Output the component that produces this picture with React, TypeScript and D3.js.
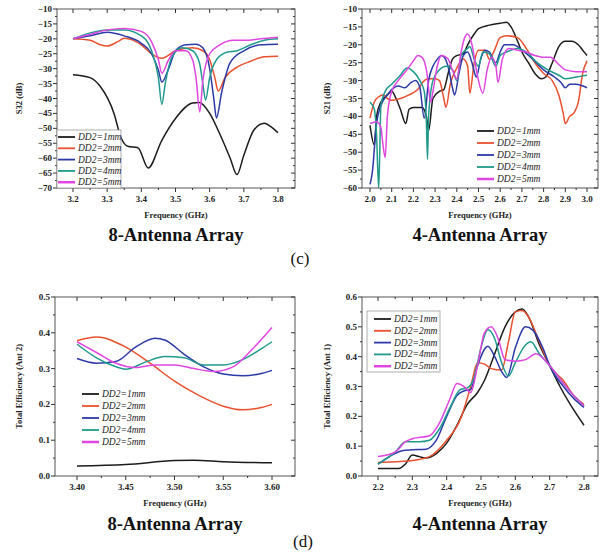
import React from "react";
import * as d3 from "d3";

type P = [number, number];

const seriesLabels = ["DD2=1mm", "DD2=2mm", "DD2=3mm", "DD2=4mm", "DD2=5mm"];
const seriesColors = ["#1c1c1c", "#e8502e", "#2b3aa6", "#1f9a8c", "#e045e0"];

// (c) 8-antenna S32
const s32_1: P[] = [[3.2,-32],[3.25,-33],[3.28,-36],[3.32,-45],[3.34,-53],[3.36,-56],[3.39,-56.5],[3.42,-63.3],[3.46,-54],[3.5,-46.7],[3.55,-41.5],[3.57,-41.3],[3.6,-45],[3.63,-52],[3.66,-60],[3.68,-65.5],[3.7,-59],[3.73,-50.5],[3.76,-48.3],[3.78,-49.5],[3.8,-51.5]];
const s32_2: P[] = [[3.2,-20],[3.25,-20.5],[3.28,-22],[3.3,-22.4],[3.33,-21],[3.35,-19.8],[3.4,-22],[3.43,-25],[3.46,-26.5],[3.5,-24],[3.55,-23],[3.58,-24],[3.6,-27],[3.615,-33],[3.625,-37.5],[3.645,-33],[3.68,-29.5],[3.72,-27.5],[3.76,-26],[3.8,-25.8]];
const s32_3: P[] = [[3.2,-20],[3.25,-19],[3.3,-17.8],[3.35,-19],[3.4,-21.5],[3.43,-25],[3.45,-30.5],[3.46,-34.5],[3.48,-30],[3.5,-24],[3.53,-22],[3.56,-21.8],[3.58,-23],[3.6,-30],[3.612,-40],[3.62,-46.5],[3.635,-38],[3.66,-28],[3.7,-24],[3.75,-22],[3.8,-21.8]];
const s32_4: P[] = [[3.2,-20],[3.25,-18],[3.3,-17],[3.35,-17],[3.4,-19],[3.43,-24],[3.45,-33],[3.46,-42],[3.47,-35],[3.49,-26],[3.52,-23],[3.55,-24],[3.57,-28],[3.58,-35],[3.588,-40.5],[3.6,-33],[3.62,-27],[3.65,-24.5],[3.68,-24],[3.72,-22],[3.76,-20.5],[3.8,-20]];
const s32_5: P[] = [[3.2,-20],[3.25,-18.5],[3.3,-17],[3.35,-16.5],[3.4,-17.5],[3.43,-21],[3.45,-27],[3.46,-31.5],[3.48,-27],[3.5,-24],[3.53,-24],[3.55,-27],[3.56,-33],[3.571,-44.5],[3.58,-34],[3.6,-25],[3.63,-22],[3.67,-20.5],[3.7,-20.5],[3.75,-20],[3.8,-19.5]];

// (c) 4-antenna S21
const s21_1: P[] = [[2.0,-42.5],[2.02,-48],[2.03,-40],[2.05,-36],[2.08,-34],[2.1,-33],[2.12,-35],[2.14,-38],[2.165,-42],[2.18,-38],[2.2,-37.5],[2.24,-37.5],[2.26,-40],[2.27,-44],[2.29,-35],[2.32,-33],[2.34,-32.5],[2.36,-28],[2.38,-24],[2.4,-23],[2.43,-22.5],[2.45,-20],[2.48,-17],[2.5,-15.5],[2.55,-14.5],[2.6,-14],[2.63,-13.7],[2.65,-15],[2.68,-19],[2.7,-22],[2.73,-25],[2.76,-28],[2.79,-29.5],[2.81,-29],[2.84,-25],[2.87,-20.5],[2.9,-19],[2.93,-19],[2.96,-20],[2.98,-21.5],[3.0,-23]];
const s21_2: P[] = [[2.0,-40.5],[2.02,-36],[2.04,-34.5],[2.06,-34],[2.08,-35],[2.1,-35.5],[2.14,-35],[2.18,-34],[2.22,-32.5],[2.25,-30],[2.27,-29.5],[2.3,-29.5],[2.32,-30],[2.34,-35],[2.35,-37.5],[2.37,-31],[2.4,-26.5],[2.43,-24],[2.45,-26],[2.46,-33.5],[2.48,-25],[2.5,-21.5],[2.53,-21.5],[2.55,-24],[2.57,-22],[2.6,-18],[2.63,-17.5],[2.68,-18],[2.72,-21],[2.76,-25],[2.8,-28],[2.84,-30],[2.87,-34],[2.89,-39],[2.9,-42],[2.92,-40],[2.94,-39],[2.96,-36],[2.98,-28],[3.0,-24.5]];
const s21_3: P[] = [[2.0,-59],[2.01,-56],[2.03,-42],[2.05,-37],[2.08,-34],[2.1,-32.5],[2.13,-31.5],[2.16,-32],[2.19,-30.5],[2.21,-30],[2.23,-32],[2.25,-40.5],[2.27,-30],[2.29,-26],[2.31,-24],[2.33,-23],[2.36,-26],[2.38,-32],[2.39,-34],[2.41,-28],[2.43,-23],[2.45,-22],[2.47,-25],[2.49,-29],[2.51,-24],[2.53,-21.5],[2.55,-22],[2.58,-25],[2.6,-22],[2.62,-20],[2.66,-20],[2.7,-21.5],[2.75,-24],[2.8,-27],[2.85,-29],[2.88,-30.5],[2.9,-32],[2.92,-31],[2.95,-31],[3.0,-32]];
const s21_4: P[] = [[2.0,-36],[2.02,-38],[2.03,-45],[2.04,-60],[2.045,-50],[2.05,-37],[2.07,-33],[2.1,-31],[2.14,-28.5],[2.17,-26.5],[2.2,-27.5],[2.23,-30],[2.25,-33],[2.26,-42],[2.265,-52],[2.27,-40],[2.29,-30],[2.32,-27],[2.35,-26],[2.38,-27],[2.4,-30],[2.42,-23],[2.45,-21],[2.46,-20.5],[2.48,-24],[2.5,-26],[2.52,-22],[2.55,-22.5],[2.58,-26],[2.6,-23],[2.63,-22],[2.68,-21],[2.72,-22],[2.77,-25],[2.82,-27],[2.87,-28.5],[2.9,-29.5],[2.95,-29],[3.0,-28.5]];
const s21_5: P[] = [[2.0,-42],[2.03,-41.5],[2.05,-43],[2.06,-48],[2.07,-51.5],[2.08,-40],[2.1,-33],[2.13,-30],[2.17,-27],[2.2,-24.5],[2.22,-23],[2.24,-23.5],[2.26,-27],[2.28,-36],[2.29,-33],[2.31,-26],[2.33,-23],[2.36,-24],[2.38,-27],[2.4,-29.5],[2.42,-22],[2.44,-17.5],[2.45,-17],[2.47,-20],[2.49,-27],[2.5,-30],[2.52,-33.5],[2.54,-27],[2.56,-23.5],[2.58,-26],[2.59,-30.5],[2.61,-24],[2.64,-21],[2.68,-21.5],[2.72,-22],[2.76,-23],[2.8,-23.5],[2.83,-23.5],[2.87,-25.5],[2.9,-27],[2.95,-27.5],[3.0,-27.5]];

// (d) 8-antenna efficiency (Ant 2)
const eff8_1: P[] = [[3.4,0.028],[3.45,0.032],[3.5,0.043],[3.52,0.044],[3.55,0.04],[3.6,0.037]];
const eff8_2: P[] = [[3.4,0.378],[3.42,0.388],[3.45,0.36],[3.475,0.315],[3.5,0.265],[3.525,0.225],[3.55,0.195],[3.57,0.185],[3.59,0.192],[3.6,0.2]];
const eff8_3: P[] = [[3.4,0.328],[3.42,0.315],[3.44,0.32],[3.46,0.36],[3.48,0.385],[3.49,0.38],[3.51,0.34],[3.53,0.305],[3.55,0.285],[3.57,0.28],[3.59,0.287],[3.6,0.295]];
const eff8_4: P[] = [[3.4,0.368],[3.42,0.33],[3.44,0.305],[3.45,0.298],[3.47,0.318],[3.49,0.334],[3.51,0.33],[3.53,0.31],[3.55,0.31],[3.57,0.325],[3.59,0.357],[3.6,0.375]];
const eff8_5: P[] = [[3.4,0.375],[3.42,0.345],[3.44,0.315],[3.46,0.303],[3.48,0.31],[3.5,0.31],[3.52,0.3],[3.54,0.292],[3.56,0.305],[3.58,0.355],[3.6,0.415]];

// (d) 4-antenna efficiency (Ant 1)
const eff4_1: P[] = [[2.2,0.025],[2.26,0.025],[2.28,0.04],[2.3,0.07],[2.32,0.065],[2.34,0.06],[2.37,0.075],[2.4,0.11],[2.43,0.17],[2.46,0.24],[2.49,0.28],[2.51,0.32],[2.54,0.41],[2.57,0.5],[2.6,0.55],[2.62,0.56],[2.64,0.53],[2.67,0.44],[2.7,0.37],[2.73,0.3],[2.76,0.24],[2.8,0.17]];
const eff4_2: P[] = [[2.2,0.045],[2.25,0.048],[2.3,0.052],[2.35,0.065],[2.4,0.12],[2.44,0.19],[2.47,0.3],[2.49,0.38],[2.51,0.375],[2.53,0.36],[2.56,0.355],[2.58,0.45],[2.6,0.55],[2.62,0.555],[2.64,0.53],[2.67,0.45],[2.7,0.37],[2.74,0.32],[2.77,0.27],[2.8,0.24]];
const eff4_3: P[] = [[2.2,0.04],[2.24,0.07],[2.27,0.085],[2.3,0.088],[2.34,0.09],[2.37,0.12],[2.4,0.2],[2.43,0.27],[2.45,0.285],[2.47,0.29],[2.49,0.37],[2.52,0.435],[2.54,0.4],[2.56,0.35],[2.575,0.33],[2.6,0.43],[2.63,0.5],[2.65,0.49],[2.68,0.43],[2.7,0.37],[2.74,0.3],[2.77,0.26],[2.8,0.23]];
const eff4_4: P[] = [[2.2,0.04],[2.25,0.08],[2.28,0.115],[2.32,0.115],[2.35,0.12],[2.38,0.16],[2.41,0.23],[2.44,0.29],[2.46,0.295],[2.48,0.33],[2.5,0.43],[2.52,0.49],[2.54,0.46],[2.56,0.38],[2.58,0.335],[2.6,0.38],[2.63,0.44],[2.645,0.45],[2.67,0.41],[2.7,0.37],[2.74,0.31],[2.77,0.27],[2.8,0.235]];
const eff4_5: P[] = [[2.2,0.065],[2.25,0.08],[2.28,0.115],[2.3,0.125],[2.35,0.135],[2.38,0.18],[2.41,0.26],[2.43,0.31],[2.45,0.3],[2.47,0.28],[2.49,0.37],[2.51,0.48],[2.53,0.5],[2.55,0.46],[2.57,0.39],[2.6,0.385],[2.63,0.39],[2.66,0.41],[2.7,0.37],[2.74,0.31],[2.77,0.27],[2.8,0.235]];

const ticksS32X = [3.2, 3.3, 3.4, 3.5, 3.6, 3.7, 3.8];
const ticksS32Y = [-10, -15, -20, -25, -30, -35, -40, -45, -50, -55, -60, -65, -70];
const ticksS21X = [2.0, 2.1, 2.2, 2.3, 2.4, 2.5, 2.6, 2.7, 2.8, 2.9, 3.0];
const ticksS21Y = [-10, -15, -20, -25, -30, -35, -40, -45, -50, -55, -60];
const ticksE8X = [3.4, 3.45, 3.5, 3.55, 3.6];
const ticksE8Y = [0, 0.1, 0.2, 0.3, 0.4, 0.5];
const ticksE4X = [2.2, 2.3, 2.4, 2.5, 2.6, 2.7, 2.8];
const ticksE4Y = [0, 0.1, 0.2, 0.3, 0.4, 0.5, 0.6];

const FONT = "'Liberation Serif', 'Times New Roman', serif";

type PanelProps = {
  frame: [number, number, number, number]; // x0, x1, y0, y1
  xDom: [number, number]; xRng: [number, number];
  yDom: [number, number]; yRng: [number, number];
  xTicks: number[]; yTicks: number[];
  xFmt: string; yFmt: string;
  series: P[][];
  yTitle: string; yTitleX: number;
  xTitleY: number; title: string; titleY: number;
  legend: { lx: number; ly: number; step: number; box?: [number, number, number, number] };
};

function Panel(p: PanelProps) {
  const [fx0, fx1, fy0, fy1] = p.frame;
  const x = d3.scaleLinear().domain(p.xDom).range(p.xRng);
  const y = d3.scaleLinear().domain(p.yDom).range(p.yRng);
  const line = d3.line<P>().x(d => x(d[0])).y(d => y(d[1])).curve(d3.curveMonotoneX);
  const xf = d3.format(p.xFmt);
  const yf = d3.format(p.yFmt);
  const xStep = p.xTicks[1] - p.xTicks[0];
  const yStep = p.yTicks[1] - p.yTicks[0];
  const xMinor = p.xTicks.slice(0, -1).map(t => t + xStep / 2);
  const yMinor = p.yTicks.slice(0, -1).map(t => t + yStep / 2);
  const cx = (fx0 + fx1) / 2;
  const cy = (fy0 + fy1) / 2;
  const tick = "#333";
  return (
    <g>
      <defs>
        <clipPath id={`clip-${fx0}-${fy0}`}>
          <rect x={fx0} y={fy0} width={fx1 - fx0} height={fy1 - fy0} />
        </clipPath>
      </defs>
      <g clipPath={`url(#clip-${fx0}-${fy0})`}>
        {p.series.map((s, i) => (
          <path key={i} d={line(s) || ""} fill="none" stroke={seriesColors[i]} strokeWidth={1.5} strokeLinejoin="round" />
        ))}
      </g>
      <rect x={fx0} y={fy0} width={fx1 - fx0} height={fy1 - fy0} fill="none" stroke="#555" strokeWidth={1} />
      {p.xTicks.map((t, i) => (
        <g key={"xt" + i}>
          <line x1={x(t)} x2={x(t)} y1={fy1} y2={fy1 + 4} stroke={tick} />
          <line x1={x(t)} x2={x(t)} y1={fy0} y2={fy0 + 4} stroke={tick} />
          <text x={x(t)} y={fy1 + 14} textAnchor="middle" fontSize={9} fontWeight="bold" fontFamily={FONT} fill="#222">{xf(t)}</text>
        </g>
      ))}
      {xMinor.map((t, i) => (
        <g key={"xm" + i}>
          <line x1={x(t)} x2={x(t)} y1={fy1} y2={fy1 + 2} stroke={tick} />
          <line x1={x(t)} x2={x(t)} y1={fy0} y2={fy0 + 2} stroke={tick} />
        </g>
      ))}
      {p.yTicks.map((t, i) => (
        <g key={"yt" + i}>
          <line x1={fx0 - 4} x2={fx0} y1={y(t)} y2={y(t)} stroke={tick} />
          <line x1={fx1 - 4} x2={fx1} y1={y(t)} y2={y(t)} stroke={tick} />
          <text x={fx0 - 5} y={y(t) + 3} textAnchor="end" fontSize={9} fontWeight="bold" fontFamily={FONT} fill="#222">{yf(t)}</text>
        </g>
      ))}
      {yMinor.map((t, i) => (
        <g key={"ym" + i}>
          <line x1={fx0 - 2} x2={fx0} y1={y(t)} y2={y(t)} stroke={tick} />
          <line x1={fx1 - 2} x2={fx1} y1={y(t)} y2={y(t)} stroke={tick} />
        </g>
      ))}
      <text x={cx} y={p.xTitleY} textAnchor="middle" fontSize={8.5} fontWeight="bold" fontFamily={FONT} fill="#222">Frequency (GHz)</text>
      <text transform={`translate(${p.yTitleX},${cy}) rotate(-90)`} textAnchor="middle" fontSize={8.5} fontWeight="bold" fontFamily={FONT} fill="#222">{p.yTitle}</text>
      <text x={cx} y={p.titleY} textAnchor="middle" fontSize={18.5} fontWeight="bold" fontFamily={FONT} fill="#111">{p.title}</text>
      {p.legend.box && (
        <rect x={p.legend.box[0]} y={p.legend.box[1]} width={p.legend.box[2]} height={p.legend.box[3]} fill="white" stroke="#999" strokeWidth={0.8} />
      )}
      {seriesLabels.map((lab, i) => {
        const ly = p.legend.ly + i * p.legend.step;
        return (
          <g key={"lg" + i}>
            <line x1={p.legend.lx} x2={p.legend.lx + 17} y1={ly} y2={ly} stroke={seriesColors[i]} strokeWidth={i === 4 ? 2.5 : 1.8} />
            <text x={p.legend.lx + 20} y={ly + 3} fontSize={9.5} fontStyle="italic" fontFamily={FONT} fill="#222">{lab}</text>
          </g>
        );
      })}
    </g>
  );
}

export default function App() {
  return (
    <svg width={605} height={558} style={{ position: "absolute", left: 0, top: 0, background: "#fff" }}>
      <rect x={0} y={0} width={605} height={558} fill="#fff" />
      <Panel
        frame={[57, 295, 9, 188]}
        xDom={[3.2, 3.8]} xRng={[73, 278]}
        yDom={[-10, -70]} yRng={[9, 188]}
        xTicks={ticksS32X} yTicks={ticksS32Y} xFmt=".1f" yFmt="d"
        series={[s32_1, s32_2, s32_3, s32_4, s32_5]}
        yTitle="S32 (dB)" yTitleX={22}
        xTitleY={218} title="8-Antenna Array" titleY={241}
        legend={{ lx: 58, ly: 137, step: 11.3, box: [57, 130, 64, 58] }}
      />
      <Panel
        frame={[362, 598, 9, 188]}
        xDom={[2.0, 3.0]} xRng={[370, 587]}
        yDom={[-10, -60]} yRng={[9, 188]}
        xTicks={ticksS21X} yTicks={ticksS21Y} xFmt=".1f" yFmt="d"
        series={[s21_1, s21_2, s21_3, s21_4, s21_5]}
        yTitle="S21 (dB)" yTitleX={330}
        xTitleY={218} title="4-Antenna Array" titleY={241}
        legend={{ lx: 477, ly: 131, step: 12 }}
      />
      <Panel
        frame={[55, 295, 297, 476]}
        xDom={[3.4, 3.6]} xRng={[77, 272]}
        yDom={[0, 0.5]} yRng={[476, 297]}
        xTicks={ticksE8X} yTicks={ticksE8Y} xFmt=".2f" yFmt=".1f"
        series={[eff8_1, eff8_2, eff8_3, eff8_4, eff8_5]}
        yTitle="Total Efficiency (Ant 2)" yTitleX={22}
        xTitleY={506} title="8-Antenna Array" titleY={530}
        legend={{ lx: 82, ly: 394, step: 12 }}
      />
      <Panel
        frame={[362, 598, 297, 476]}
        xDom={[2.2, 2.8]} xRng={[378, 584]}
        yDom={[0, 0.6]} yRng={[476, 297]}
        xTicks={ticksE4X} yTicks={ticksE4Y} xFmt=".1f" yFmt=".1f"
        series={[eff4_1, eff4_2, eff4_3, eff4_4, eff4_5]}
        yTitle="Total Efficiency (Ant 1)" yTitleX={330}
        xTitleY={506} title="4-Antenna Array" titleY={530}
        legend={{ lx: 374, ly: 319, step: 11.8, box: [367, 311, 73, 61] }}
      />
      <text x={300} y={264} textAnchor="middle" fontSize={17} fontFamily={FONT} fill="#111">(c)</text>
      <text x={303} y={547} textAnchor="middle" fontSize={17} fontFamily={FONT} fill="#111">(d)</text>
    </svg>
  );
}
